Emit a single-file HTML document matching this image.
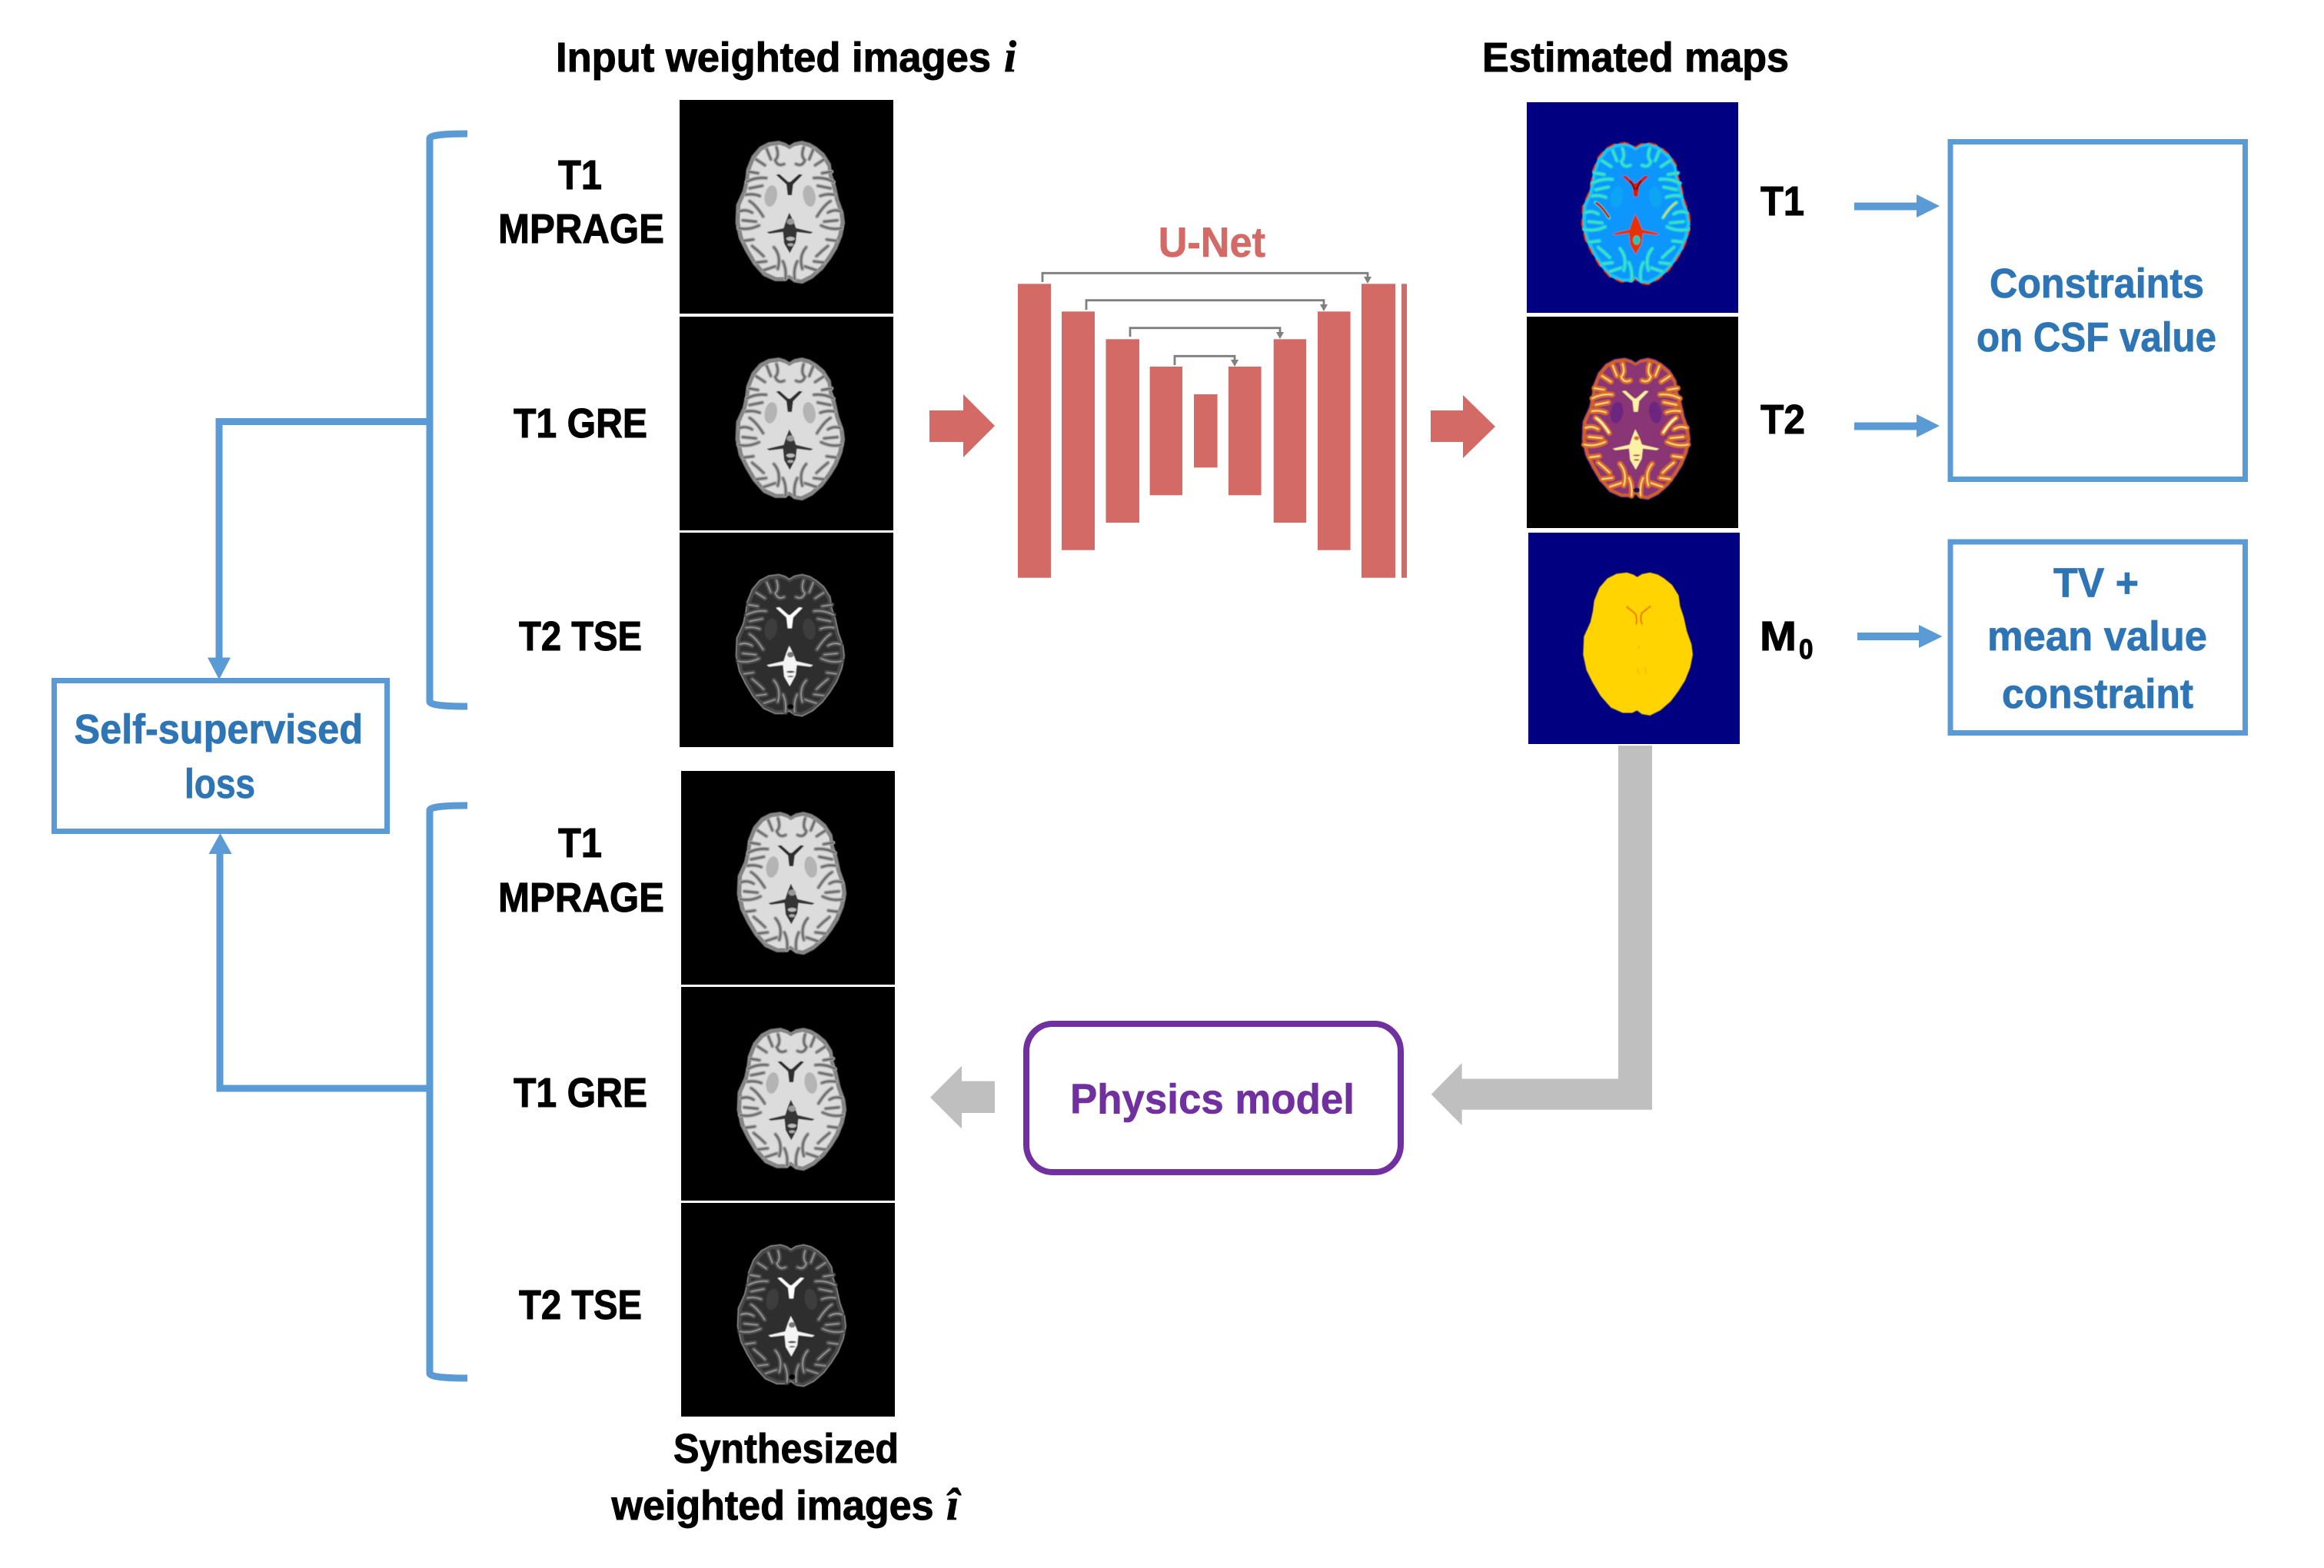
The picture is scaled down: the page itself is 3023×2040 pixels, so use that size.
<!DOCTYPE html>
<html><head><meta charset="utf-8"><title>Self-supervised mapping diagram</title>
<style>
html,body{margin:0;padding:0;background:#fff;width:3023px;height:2040px;overflow:hidden}
svg{display:block}
text{font-family:"Liberation Sans",sans-serif;font-weight:bold}
.k{fill:#000;stroke:#000;stroke-width:1;font-size:54px}
.b{fill:#2e75b6;stroke:#2e75b6;stroke-width:.8;font-size:54px}
.m{font-family:"Liberation Serif",serif;font-style:italic;font-size:58px;fill:#000;stroke:#000;stroke-width:.8}
</style></head><body>
<svg width="3023" height="2040" viewBox="0 0 3023 2040" xmlns="http://www.w3.org/2000/svg">
<defs>
<filter id="bl" x="-5%" y="-5%" width="110%" height="110%"><feGaussianBlur stdDeviation="1.6"/></filter>
<polygon id="o" points="440,210 460,198 490,192 520,200 545,215 575,240 600,280 605,320 620,365 632,420 650,470 655,510 645,560 625,610 600,650 570,690 530,725 490,745 460,740 440,725 420,735 385,735 340,715 300,670 270,620 245,570 232,510 235,440 260,385 270,340 275,300 295,250 325,215 360,197 400,192 425,200"/>
<use id="w" href="#o" transform="translate(443 465) scale(.93 .95) translate(-443 -465)"/>
<g id="sl" fill="none" stroke-linecap="round" stroke-linejoin="round">
<path d="M352 222L368 262"/><path d="M390 215Q402 250 385 265Q395 292 420 280"/><path d="M310 262L345 285"/><path d="M280 310L318 316"/><path d="M272 350Q310 330 350 335"/><path d="M285 375L335 365"/><path d="M270 400Q300 395 325 405"/><path d="M285 425Q310 440 338 485"/><path d="M245 465Q270 455 295 470"/><path d="M240 530Q280 540 322 520"/><path d="M258 500L310 505"/><path d="M262 580L300 575"/><path d="M295 600Q320 620 340 640"/><path d="M310 665L350 660"/><path d="M340 695L385 680"/><path d="M380 605Q410 640 395 690"/><path d="M415 660Q430 690 425 730"/>
</g>
<g id="s"><use href="#sl"/><use href="#sl" transform="matrix(-1 0 0 1 886 0)"/></g>
<g id="n">
<ellipse cx="368" cy="405" rx="24" ry="42" transform="rotate(10 368 405)"/>
<ellipse cx="518" cy="405" rx="24" ry="42" transform="rotate(-10 518 405)"/>
</g>
<polygon id="v" points="388,322 402,320 436,350 444,350 478,320 492,322 455,360 450,402 434,402 429,360"/>
<g id="p">
<polygon points="440,470 455,500 470,540 465,585 442,628 420,590 415,540 428,500"/>
<polygon points="352,546 420,530 420,545 362,552"/>
<polygon points="533,546 465,530 465,545 523,552"/>
</g>
<g id="b1" filter="url(#bl)">
<use href="#o" fill="#858585" stroke="#858585" stroke-width="5" stroke-linejoin="round"/>
<use href="#w" fill="#dcdcdc"/>
<use href="#n" fill="#b4b4b4"/>
<use href="#s" stroke="#9c9c9c" stroke-width="15"/>
<use href="#s" stroke="#4a4a4a" stroke-width="4"/>
<use href="#v" fill="#2f2f2f"/>
<use href="#p" fill="#343434"/>
<ellipse cx="445" cy="505" rx="15" ry="12" fill="#999"/>
<ellipse cx="445" cy="572" rx="17" ry="8" fill="#bbb"/>
<ellipse cx="445" cy="595" rx="12" ry="6" fill="#aaa"/>
</g>
<g id="b2" filter="url(#bl)">
<use href="#o" fill="#484848" stroke="#999" stroke-width="4" stroke-linejoin="round"/>
<use href="#w" fill="#2f2f2f"/>
<use href="#n" fill="#3c3c3c"/>
<use href="#s" stroke="#505050" stroke-width="18"/>
<use href="#s" stroke="#b8b8b8" stroke-width="3"/>
<use href="#v" fill="#fff"/>
<use href="#p" fill="#f4f4f4"/>
<ellipse cx="445" cy="505" rx="13" ry="11" fill="#777"/>
<ellipse cx="445" cy="572" rx="16" ry="4" fill="#444"/>
<ellipse cx="445" cy="590" rx="12" ry="3" fill="#555"/>
<ellipse cx="445" cy="708" rx="13" ry="10" fill="#000"/>
</g>
<g id="m1" filter="url(#bl)">
<use href="#o" fill="#12c4f0" stroke="#d83a10" stroke-width="7" stroke-linejoin="round" stroke-dasharray="36 20"/>
<use href="#w" fill="#0d96fb"/>
<use href="#n" fill="#0ca4f4"/>
<use href="#s" stroke="#18d0e6" stroke-width="16"/>
<use href="#s" stroke="#6fe87a" stroke-width="3"/>
<use href="#v" fill="#d81a00"/>
<path d="M420 340L438 375M462 340L444 375" stroke="#7a0000" stroke-width="7" fill="none"/>
<use href="#p" fill="#e63300"/>
<ellipse cx="445" cy="572" rx="14" ry="18" fill="#22c8c0"/>
<path d="M285 425Q310 440 338 485" stroke="#c81400" stroke-width="9" fill="none"/>
<path d="M601 425Q576 440 548 485" stroke="#f0d020" stroke-width="6" fill="none"/>
</g>
<g id="m2" filter="url(#bl)">
<use href="#o" fill="#cf6020" stroke="#5a2088" stroke-width="4" stroke-linejoin="round"/>
<use href="#w" fill="#8a3474"/>
<use href="#n" fill="#6c2680"/>
<use href="#s" stroke="#d96a1f" stroke-width="22"/>
<use href="#s" stroke="#fdeb9c" stroke-width="5"/>
<use href="#v" fill="#fdf2a4"/>
<use href="#p" fill="#fdf2a4"/>
<path d="M285 425Q310 440 338 485M601 425Q576 440 548 485" stroke="#fff5b0" stroke-width="9" fill="none"/>
<ellipse cx="445" cy="505" rx="10" ry="8" fill="#d86a20"/>
<ellipse cx="445" cy="572" rx="14" ry="3" fill="#a03a40"/>
<ellipse cx="445" cy="590" rx="11" ry="3" fill="#a03a40"/>
<ellipse cx="445" cy="708" rx="13" ry="10" fill="#1a0a50"/>
</g>
<g id="m3" filter="url(#bl)">
<use href="#o" fill="#ffd400" stroke="#ffd400" stroke-width="5" stroke-linejoin="round"/>
<path d="M398 322L433 350Q442 372 436 392" fill="none" stroke="#f25a00" stroke-width="5"/>
<path d="M493 320L458 348Q450 372 460 392" fill="none" stroke="#f25a00" stroke-width="5"/>
<path d="M448 475L448 486" stroke="#f7a000" stroke-width="4"/>
<path d="M440 565L448 590M470 560L475 585" stroke="#fbbb00" stroke-width="6"/>
</g>
</defs>

<rect width="3023" height="2040" fill="#fff"/>

<rect x="884" y="130" width="278" height="278" fill="#000"/>
<rect x="884" y="412" width="278" height="278" fill="#000"/>
<rect x="884" y="693" width="278" height="279" fill="#000"/>
<g transform="translate(880 120) scale(.33333)"><use href="#b1"/></g>
<g transform="translate(880 402) scale(.33333)"><use href="#b1"/></g>
<g transform="translate(880 683.4) scale(.33333)"><use href="#b2"/></g>

<rect x="886" y="1003" width="278" height="278" fill="#000"/>
<rect x="886" y="1284" width="278" height="278" fill="#000"/>
<rect x="886" y="1565" width="278" height="278" fill="#000"/>
<g transform="translate(882 993) scale(.33333)"><use href="#b1"/></g>
<g transform="translate(882 1274) scale(.33333)"><use href="#b1"/></g>
<g transform="translate(882 1555.4) scale(.33333)"><use href="#b2"/></g>

<rect x="1986" y="133" width="275" height="274" fill="#000080"/>
<rect x="1986" y="412" width="275" height="275" fill="#000"/>
<rect x="1988" y="693" width="275" height="275" fill="#000080"/>
<g transform="translate(1980.5 121.7) scale(.33333)"><use href="#m1"/></g>
<g transform="translate(1980.5 401.7) scale(.33333)"><use href="#m2"/></g>
<g transform="translate(1982.8 681.7) scale(.33333)"><use href="#m3"/></g>

<text class="k" x="723" y="93" textLength="566" lengthAdjust="spacingAndGlyphs">Input weighted images</text>
<text class="m" x="1306" y="93" font-weight="bold">i</text>
<text class="k" x="1928" y="93" textLength="399" lengthAdjust="spacingAndGlyphs">Estimated maps</text>
<text class="k" x="876" y="1903" textLength="293" lengthAdjust="spacingAndGlyphs">Synthesized</text>
<text class="k" x="795.5" y="1977" textLength="419" lengthAdjust="spacingAndGlyphs">weighted images</text>
<text class="m" x="1231" y="1977" font-weight="bold">î</text>

<text class="k" x="726" y="246" textLength="57" lengthAdjust="spacingAndGlyphs">T1</text>
<text class="k" x="648" y="316" textLength="216" lengthAdjust="spacingAndGlyphs">MPRAGE</text>
<text class="k" x="668" y="569" textLength="174" lengthAdjust="spacingAndGlyphs">T1 GRE</text>
<text class="k" x="675" y="846" textLength="160" lengthAdjust="spacingAndGlyphs">T2 TSE</text>
<text class="k" x="726" y="1115" textLength="57" lengthAdjust="spacingAndGlyphs">T1</text>
<text class="k" x="648" y="1186" textLength="216" lengthAdjust="spacingAndGlyphs">MPRAGE</text>
<text class="k" x="668" y="1440" textLength="174" lengthAdjust="spacingAndGlyphs">T1 GRE</text>
<text class="k" x="675" y="1716" textLength="160" lengthAdjust="spacingAndGlyphs">T2 TSE</text>

<g fill="none" stroke="#5b9bd5" stroke-width="9">
<path d="M608 174C585 174 560 175 559 180V913C560 918 585 919 608 919"/>
<path d="M608 1048C585 1048 560 1049 559 1054V1787C560 1792 585 1793 608 1793"/>
<path d="M559 548.5H285V860"/>
<path d="M559 1416H286V1105"/>
<rect x="70.5" y="885.5" width="433" height="196" stroke-width="7"/>
<rect x="2537" y="184.5" width="383.500" height="439" stroke-width="7"/>
<rect x="2537" y="705" width="383.500" height="248.500" stroke-width="7"/>
</g>
<polygon points="270,855.500 300,855.500 285,884" fill="#5b9bd5"/>
<polygon points="271.500,1111 301.500,1111 286.500,1084" fill="#5b9bd5"/>
<text class="b" x="96.500" y="967" textLength="375.500" lengthAdjust="spacingAndGlyphs">Self-supervised</text>
<text class="b" x="240" y="1038" textLength="92" lengthAdjust="spacingAndGlyphs">loss</text>

<text x="1506.700" y="334" font-size="55" fill="#d46a66" stroke="#d46a66" stroke-width=".6" textLength="139.300" lengthAdjust="spacingAndGlyphs">U-Net</text>
<g fill="#d46a66">
<rect x="1324" y="369.300" width="43" height="382.400"/>
<rect x="1381" y="405.300" width="43" height="310.400"/>
<rect x="1438.500" y="441.300" width="43.500" height="238.700"/>
<rect x="1495.600" y="477" width="42.400" height="167.300"/>
<rect x="1553" y="513" width="30.600" height="95.300"/>
<rect x="1598" y="477" width="42.600" height="167.300"/>
<rect x="1656.700" y="441.300" width="42.300" height="238.700"/>
<rect x="1714" y="405.300" width="42.600" height="310.400"/>
<rect x="1771" y="369.300" width="44" height="382.400"/>
<rect x="1823" y="369.300" width="7" height="382.400"/>
<polygon points="1209,534 1253,534 1253,513 1294,554 1253,595 1253,575 1209,575"/>
<polygon points="1861,534 1903,534 1903,514 1945,555 1903,596 1903,575 1861,575"/>
</g>
<g fill="none" stroke="#7f7f7f" stroke-width="2.800">
<path d="M1356 367V355.300H1779V361"/>
<path d="M1413 403V390.700H1722V397"/>
<path d="M1470 438V426.700H1665V433"/>
<path d="M1528 475V463.300H1606V469"/>
</g>
<g fill="#7f7f7f">
<polygon points="1774,360 1784,360 1779,369"/>
<polygon points="1717,396 1727,396 1722,405"/>
<polygon points="1660,432 1670,432 1665,441"/>
<polygon points="1601,468 1611,468 1606,477"/>
</g>

<text class="k" x="2290" y="280" textLength="57" lengthAdjust="spacingAndGlyphs">T1</text>
<text class="k" x="2290" y="564" textLength="58" lengthAdjust="spacingAndGlyphs">T2</text>
<text class="k" x="2289" y="846" textLength="48" lengthAdjust="spacingAndGlyphs">M</text>
<text class="k" x="2340" y="857" style="font-size:36px" textLength="18.500" lengthAdjust="spacingAndGlyphs">0</text>

<g fill="#5b9bd5">
<polygon points="2412,263.500 2493,263.500 2493,253 2523,268 2493,283 2493,273.500 2412,273.500"/>
<polygon points="2412,549.500 2493,549.500 2493,539 2523,554 2493,569 2493,559.500 2412,559.500"/>
<polygon points="2416,823 2496,823 2496,813 2526.500,828 2496,843 2496,833 2416,833"/>
</g>
<text class="b" x="2588" y="387" textLength="279" lengthAdjust="spacingAndGlyphs">Constraints</text>
<text class="b" x="2571" y="457" textLength="312" lengthAdjust="spacingAndGlyphs">on CSF value</text>
<text class="b" x="2671" y="776.500" textLength="111" lengthAdjust="spacingAndGlyphs">TV +</text>
<text class="b" x="2585" y="846" textLength="286" lengthAdjust="spacingAndGlyphs">mean value</text>
<text class="b" x="2604" y="921" textLength="249" lengthAdjust="spacingAndGlyphs">constraint</text>

<polygon points="2105,970 2149,970 2149,1443.700 1901.600,1443.700 1901.600,1464 1861.800,1423.800 1901.600,1383 1901.600,1403.500 2105,1403.500" fill="#bfbfbf"/>
<polygon points="1294,1406.600 1251,1406.600 1251,1386.700 1210,1427.700 1251,1468.600 1251,1448 1294,1448" fill="#bfbfbf"/>
<rect x="1335" y="1332" width="487" height="193" rx="34" ry="36" fill="#fff" stroke="#7030a0" stroke-width="8"/>
<text x="1392" y="1448.700" font-size="55" fill="#7030a0" stroke="#7030a0" stroke-width=".6" textLength="370" lengthAdjust="spacingAndGlyphs">Physics model</text>
</svg>
</body></html>
